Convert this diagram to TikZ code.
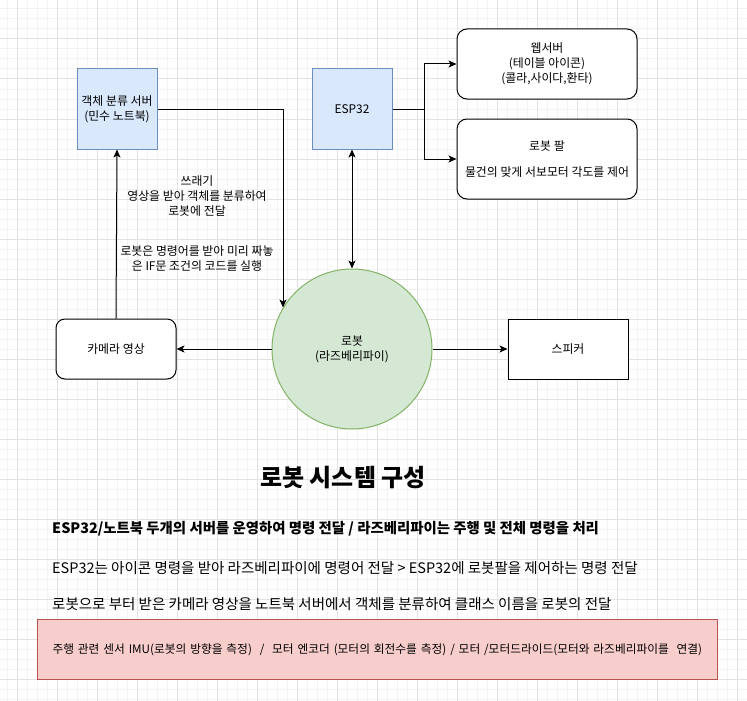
\documentclass[tikz,border=0pt]{standalone}
\usepackage{fontspec}
\setmainfont{Noto Sans CJK KR}
\usetikzlibrary{arrows.meta,positioning}
\definecolor{gridminor}{HTML}{F3F3F3}
\definecolor{gridmajor}{HTML}{E2E2E2}
\definecolor{bluefill}{HTML}{DAE8FC}
\definecolor{blueline}{HTML}{6C8EBF}
\definecolor{greenfill}{HTML}{D5E8D4}
\definecolor{greenline}{HTML}{82B366}
\definecolor{redfill}{HTML}{F8CECC}
\definecolor{redline}{HTML}{B85450}
\newcommand{\labelfont}{\fontsize{11.9}{15}\selectfont}
\newcommand{\notefont}{\fontsize{14.5}{18}\selectfont}
\begin{document}
\begin{tikzpicture}[x=1pt, y=-1pt,
    every node/.style={font=\labelfont, text=black},
    bluebox/.style={rectangle, draw=blueline, fill=bluefill, line width=1pt, minimum width=80pt, minimum height=80pt, align=center, inner sep=0pt},
    roundbox/.style={rectangle, rounded corners=10pt, draw=black, fill=white, line width=1pt, minimum width=180pt, minimum height=70pt, align=center, inner sep=0pt},
    plainbox/.style={rectangle, draw=black, fill=white, line width=1pt, minimum width=120pt, minimum height=60pt, align=center, inner sep=0pt},
    arr/.style={-{Stealth[length=8pt, width=7pt, inset=2pt]}, line width=1pt},
    arrboth/.style={{Stealth[length=8pt, width=7pt, inset=2pt]}-{Stealth[length=8pt, width=7pt, inset=2pt]}, line width=1pt}]
    \useasboundingbox (0,0) rectangle (747,701);
    % grid
    \foreach \x in {7,17,...,747} \draw[gridminor, line width=1pt] (\x,0) -- (\x,701);
    \foreach \y in {9,19,...,699} \draw[gridminor, line width=1pt] (0,\y) -- (747,\y);
    \foreach \x in {17,57,...,737} \draw[gridmajor, line width=1pt] (\x,0) -- (\x,701);
    \foreach \y in {39,79,...,679} \draw[gridmajor, line width=1pt] (0,\y) -- (747,\y);

    \node[bluebox] (server) at (117,109) {객체 분류 서버\\(민수 노트북)};
    \node[bluebox] (esp) at (352,109) {ESP32};
    \node[roundbox] (web) at (547,64) {웹서버\\(테이블 아이콘)\\(콜라,사이다,환타)};
    \node[roundbox, minimum height=80pt] (arm) at (547,159) {로봇 팔\\[11pt]물건의 맞게 서보모터 각도를 제어};
    \node[circle, draw=greenline, fill=greenfill, line width=1pt, minimum size=160pt, inner sep=0pt, align=center] (robot) at (352,349) {로봇\\(라즈베리파이)};
    \node[plainbox, rounded corners=9pt] (cam) [left=95pt of robot] {카메라 영상};
    \node[plainbox] (spk) [right=75pt of robot] {스피커};

    \node[align=center] (sortnote) at (197,196) {쓰래기\\영상을 받아 객체를 분류하여\\로봇에 전달};
    \node[align=center] (runnote) at (197,259) {로봇은 명령어를 받아 미리 짜놓\\은 IF문 조건의 코드를 실행};

    \draw[arr] (server.east) -| (robot.149.6);
    \draw[arr] (cam.north) -- (server.south);
    \draw[arrboth] (esp.south) -- (robot.north);
    \draw[arr] (robot.west) -- (cam.east);
    \draw[arr] (robot.east) -- (spk.west);
    \draw[arr] (esp.east) -- ++(32,0) |- (web.west);
    \draw[arr] (esp.east) -- ++(32,0) |- (arm.west);

    \node[font=\bfseries\fontsize{24}{28}\selectfont] (title) at (343,478) {로봇 시스템 구성};
    \node[anchor=west, inner sep=0pt, font=\bfseries\fontsize{14.4}{18}\selectfont] (summary) at (52,529) {ESP32/노트북 두개의 서버를 운영하여 명령 전달 / 라즈베리파이는 주행 및 전체 명령을 처리};
    \node[anchor=west, inner sep=0pt, font=\notefont] (espnote) at (52,568) {ESP32는 아이콘 명령을 받아 라즈베리파이에 명령어 전달 > ESP32에 로봇팔을 제어하는 명령 전달};
    \node[anchor=west, inner sep=0pt, font=\notefont] (camnote) at (52,604) {로봇으로 부터 받은 카메라 영상을 노트북 서버에서 객체를 분류하여 클래스 이름을 로봇의 전달};
    \node[rectangle, draw=redline, fill=redfill, line width=1pt, anchor=north west, minimum height=60pt, text width=650pt, inner xsep=15pt, inner ysep=0pt, align=left, font=\fontsize{11.7}{15}\selectfont] (sensor) at (37,619) {주행 관련 센서 IMU(로봇의 방향을 측정)~~/~~모터 엔코더 (모터의 회전수를 측정) / 모터 /모터드라이드(모터와 라즈베리파이를~~연결)};
\end{tikzpicture}
\end{document}
